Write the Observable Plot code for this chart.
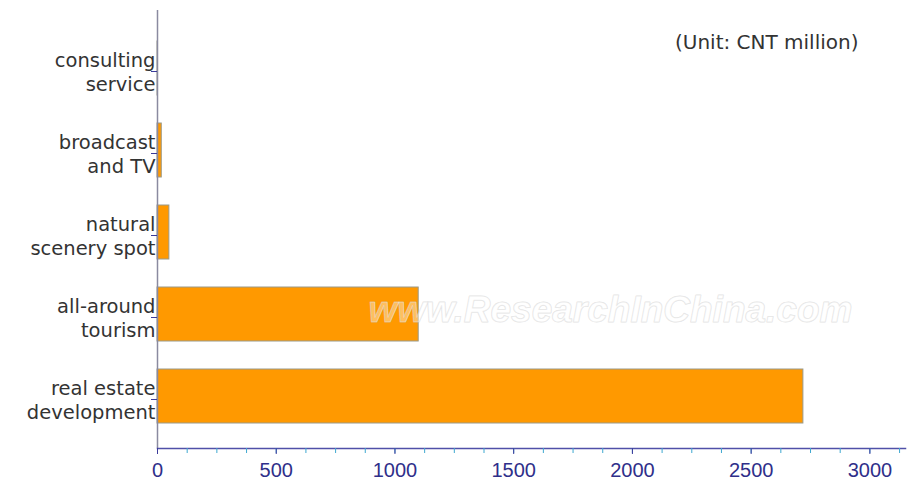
<!DOCTYPE html>
<html><head><meta charset="utf-8">
<script src="https://cdn.jsdelivr.net/npm/d3@7"></script>
<script src="https://cdn.jsdelivr.net/npm/@observablehq/plot@0.6"></script>
<style>body{margin:0;background:#fff;}</style>
</head><body><div id="chart"></div>
<script>
const categories = ["consulting\nservice", "broadcast\nand TV", "natural\nscenery spot", "all-around\ntourism", "real estate\ndevelopment"];
const values = [2, 18, 50, 1100, 2720];
const majorTicks = [0, 500, 1000, 1500, 2000, 2500, 3000];
const unitLabel = "(Unit: CNT million)";
const watermark = "www.ResearchInChina.com";

const data = categories.map((c, i) => ({category: c, value: values[i]}));
const minorTicks = d3.range(0, 3151, 125);

const chart = Plot.plot({
  width: 910,
  height: 488,
  marginLeft: 157,
  marginRight: 5,
  marginTop: 10,
  marginBottom: 40,
  style: {fontFamily: "DejaVu Sans, sans-serif", background: "#fff"},
  x: {domain: [0, 3150]},
  y: {domain: categories, range: [40, 424], paddingInner: 0.347, paddingOuter: 0},
  marks: [
    Plot.barX(data, {y: "category", x: "value", fill: "#ff9900", stroke: "#9a9a8a", strokeWidth: 1}),
    Plot.text([watermark], {frameAnchor: "middle", dx: 79, dy: 81, text: d => d,
      fontFamily: "Liberation Sans, Arial, sans-serif", fontStyle: "italic", fontWeight: "bold",
      fontSize: 37, fill: "#ffffff", fillOpacity: 0.4, stroke: "#cfcfcf", strokeOpacity: 0.6, strokeWidth: 1}),
    Plot.ruleX([0], {stroke: "#8a8aa0", strokeWidth: 1.5}),
    Plot.frame({anchor: "bottom", stroke: "#5050a8", strokeWidth: 1.5}),
    Plot.axisX({ticks: minorTicks, tickSize: 5, stroke: "#3fa8d0", text: null, label: null}),
    Plot.axisX({ticks: majorTicks, tickFormat: "d", tickSize: 6, tickPadding: 8, stroke: "#3a3a9a", fill: "#2f2f8a",
      fontSize: 20, fontFamily: "Liberation Sans, Arial, sans-serif", label: null}),
    Plot.axisY({tickSize: 6, tickPadding: -4, dy: 3, stroke: "#3a3a9a", fill: "#333", fontSize: 19.5, lineHeight: 1.22, label: null}),
    Plot.text([unitLabel], {frameAnchor: "top-right", dx: -47, dy: 32, text: d => d, fontSize: 20, fill: "#333", lineAnchor: "middle"})
  ]
});
document.getElementById("chart").appendChild(chart);
</script>
</body></html>
